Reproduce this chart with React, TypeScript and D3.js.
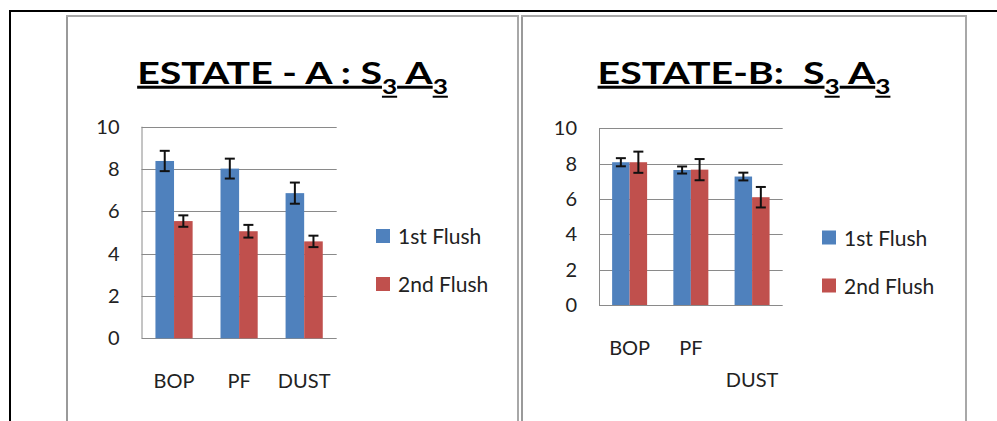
import React from "react";
import { scaleBand, scaleLinear } from "d3";

const categories = ["BOP", "PF", "DUST"];
const seriesNames = ["1st Flush", "2nd Flush"];
const seriesColors = ["#4F81BD", "#C0504D"];
const yTicks = [0, 2, 4, 6, 8, 10];

// Estate A
const estateAFirst = [8.38, 8.02, 6.86];
const estateASecond = [5.54, 5.06, 4.58];
const estateAFirstErr = [0.48, 0.47, 0.5];
const estateASecondErr = [0.27, 0.3, 0.27];

// Estate B
const estateBFirst = [8.08, 7.64, 7.27];
const estateBSecond = [8.08, 7.66, 6.1];
const estateBFirstErr = [0.23, 0.2, 0.22];
const estateBSecondErr = [0.6, 0.6, 0.58];

const FONT = "Lato, Carlito, Calibri, sans-serif";

interface PanelProps {
  x0: number;
  x1: number;
  title: [string, string, string, string];
  plot: { left: number; right: number; top: number; bottom: number };
  values: number[][];
  errors: number[][];
  legend: { x: number; y: number };
  stagger: boolean;
}

function Panel({ x0, x1, title, plot, values, errors, legend, stagger }: PanelProps) {
  const scaleX = scaleBand<string>()
    .domain(categories)
    .range([plot.left, plot.right])
    .paddingInner(0)
    .paddingOuter(0);
  const scaleSeries = scaleBand<string>()
    .domain(seriesNames)
    .range([0, scaleX.bandwidth()])
    .paddingInner(0)
    .paddingOuter(0.75);
  const scaleY = scaleLinear().domain([0, 10]).range([plot.bottom, plot.top]);

  const cx = (x0 + x1) / 2;

  return (
    <g>
      {/* chart frame */}
      <line x1={x0} x2={x0} y1={15} y2={421} stroke="#9a9a9a" strokeWidth={2} />
      <line x1={x0 - 1} x2={x1 + 1} y1={16} y2={16} stroke="#a8a8a8" strokeWidth={2} />
      <line x1={x1} x2={x1} y1={15} y2={421} stroke="#a8a8a8" strokeWidth={2} />

      {/* the original title is drawn wide, so it is stretched sideways */}
      <text
        transform={`translate(${cx}, 84) scale(1.31, 1)`}
        x={0}
        y={0}
        textAnchor="middle"
        fontFamily={FONT}
        fontWeight="bold"
        fontSize={30}
        style={{ textDecoration: "underline", whiteSpace: "pre" }}
      >
        <tspan>{title[0]}</tspan>
        <tspan fontSize={20} dy={10}>{title[1]}</tspan>
        <tspan dy={-10}>{title[2]}</tspan>
        <tspan fontSize={20} dy={10}>{title[3]}</tspan>
      </text>

      {yTicks.map((t) => (
        <g key={`tick-${t}`}>
          <line
            x1={plot.left}
            x2={plot.right}
            y1={Math.round(scaleY(t)) + 0.5}
            y2={Math.round(scaleY(t)) + 0.5}
            stroke="#8a8a8a"
            strokeWidth={1}
          />
          <text
            x={plot.left - 22}
            y={scaleY(t)}
            dy="0.35em"
            textAnchor="end"
            fontFamily={FONT}
            fontSize={20}
            fill="#222"
          >
            {t}
          </text>
        </g>
      ))}
      <line
        x1={plot.left + 0.5}
        x2={plot.left + 0.5}
        y1={plot.top}
        y2={plot.bottom}
        stroke="#8a8a8a"
        strokeWidth={1}
      />

      {categories.map((c, ci) => (
        <g key={`cat-${c}`}>
          {seriesNames.map((s, si) => {
            const v = values[si][ci];
            const e = errors[si][ci];
            const bx = scaleX(c)! + scaleSeries(s)!;
            const mid = bx + scaleSeries.bandwidth() / 2;
            return (
              <g key={`bar-${c}-${s}`}>
                <rect
                  x={bx}
                  y={scaleY(v)}
                  width={scaleSeries.bandwidth()}
                  height={scaleY(0) - scaleY(v)}
                  fill={seriesColors[si]}
                />
                <g stroke="#111" strokeWidth={2}>
                  <line x1={mid} x2={mid} y1={scaleY(v + e)} y2={scaleY(v - e)} />
                  <line x1={mid - 5} x2={mid + 5} y1={scaleY(v + e)} y2={scaleY(v + e)} />
                  <line x1={mid - 5} x2={mid + 5} y1={scaleY(v - e)} y2={scaleY(v - e)} />
                </g>
              </g>
            );
          })}
          <text
            x={scaleX(c)! + scaleX.bandwidth() / 2}
            y={plot.bottom + 50 + (stagger && ci === 2 ? 32 : 0)}
            textAnchor="middle"
            fontFamily={FONT}
            fontSize={20}
            fill="#222"
          >
            {c}
          </text>
        </g>
      ))}

      {seriesNames.map((s, si) => (
        <g key={`legend-${s}`} transform={`translate(${legend.x}, ${legend.y + si * 48})`}>
          <rect x={0} y={-15} width={14} height={14} fill={seriesColors[si]} />
          <text x={22} y={0} fontFamily={FONT} fontSize={21} fill="#222">
            {s}
          </text>
        </g>
      ))}
    </g>
  );
}

export default function App() {
  return (
    <svg
      width={997}
      height={421}
      style={{ position: "absolute", left: 0, top: 0, background: "#fff" }}
    >
      <rect x={0} y={0} width={997} height={421} fill="#fff" />
      <line x1={9} x2={997} y1={11} y2={11} stroke="#000" strokeWidth={2} />
      <line x1={10} x2={10} y1={10} y2={421} stroke="#000" strokeWidth={2} />

      <Panel
        x0={67}
        x1={518}
        title={["ESTATE - A : S", "3", " A", "3"]}
        plot={{ left: 141.5, right: 336.7, top: 126.7, bottom: 338.3 }}
        values={[estateAFirst, estateASecond]}
        errors={[estateAFirstErr, estateASecondErr]}
        legend={{ x: 376, y: 244 }}
        stagger={false}
      />
      <Panel
        x0={522}
        x1={966}
        title={["ESTATE-B:  S", "3", " A", "3"]}
        plot={{ left: 599, right: 782.7, top: 128.3, bottom: 305 }}
        values={[estateBFirst, estateBSecond]}
        errors={[estateBFirstErr, estateBSecondErr]}
        legend={{ x: 822, y: 245.5 }}
        stagger={true}
      />
    </svg>
  );
}
